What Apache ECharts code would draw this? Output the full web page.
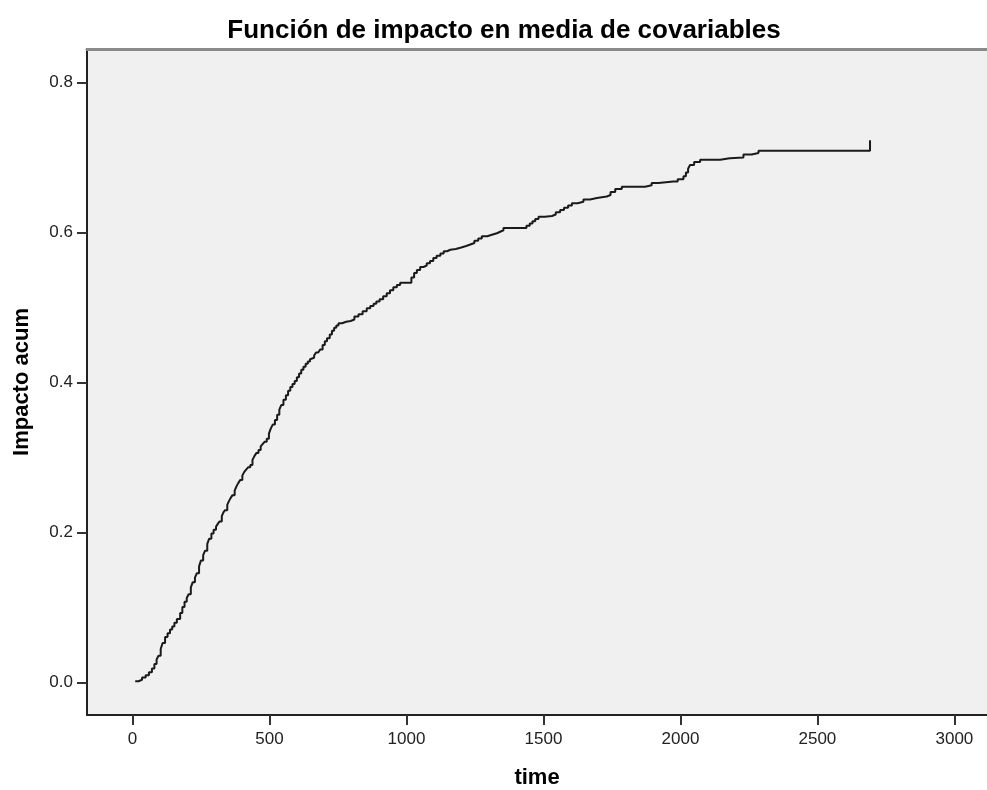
<!DOCTYPE html>
<html>
<head>
<meta charset="utf-8">
<script src="https://cdn.jsdelivr.net/npm/echarts@6/dist/echarts.min.js"></script>
<style>html,body{margin:0;padding:0;background:#fff}#c{width:987px;height:790px}</style>
</head>
<body>
<div id="c"></div>
<script>
const titleText = "Función de impacto en media de covariables";
const xName = "time";
const yName = "Impacto acum";
const xTicks = [0, 500, 1000, 1500, 2000, 2500, 3000];
const yTicks = [0.0, 0.2, 0.4, 0.6, 0.8];
const times = [10, 22, 35, 48, 60, 71, 80, 88, 95, 103, 110, 119, 128, 137, 145, 153, 162, 174, 182, 190, 198, 205, 213, 220, 228, 235, 243, 250, 258, 265, 273, 280, 288, 296, 305, 312, 318, 326, 332, 338, 346, 352, 358, 365, 373, 380, 386, 393, 401, 408, 415, 422, 430, 438, 445, 452, 460, 468, 475, 482, 490, 498, 505, 512, 520, 528, 536, 543, 551, 560, 568, 576, 584, 592, 600, 608, 616, 624, 632, 640, 648, 655, 663, 670, 678, 685, 694, 702, 710, 720, 728, 736, 744, 752, 765, 780, 796, 810, 825, 840, 855, 868, 880, 890, 902, 915, 928, 940, 952, 965, 977, 1018, 1028, 1038, 1050, 1062, 1074, 1086, 1098, 1110, 1124, 1136, 1148, 1160, 1180, 1200, 1218, 1233, 1248, 1262, 1275, 1295, 1312, 1330, 1342, 1354, 1427, 1438, 1450, 1460, 1470, 1482, 1505, 1531, 1545, 1561, 1575, 1590, 1604, 1625, 1646, 1670, 1695, 1731, 1745, 1762, 1786, 1871, 1895, 1920, 1974, 1990, 2011, 2020, 2028, 2035, 2050, 2072, 2145, 2180, 2230, 2260, 2285, 2692];
const impact = [0.002, 0.004, 0.007, 0.010, 0.014, 0.019, 0.025, 0.031, 0.036, 0.045, 0.053, 0.061, 0.066, 0.071, 0.075, 0.080, 0.085, 0.093, 0.101, 0.108, 0.113, 0.118, 0.127, 0.134, 0.140, 0.146, 0.155, 0.163, 0.170, 0.176, 0.185, 0.192, 0.199, 0.204, 0.208, 0.212, 0.215, 0.222, 0.227, 0.230, 0.237, 0.242, 0.246, 0.250, 0.256, 0.262, 0.266, 0.270, 0.276, 0.281, 0.284, 0.287, 0.290, 0.297, 0.302, 0.306, 0.310, 0.315, 0.318, 0.321, 0.325, 0.332, 0.339, 0.344, 0.350, 0.357, 0.364, 0.370, 0.377, 0.383, 0.389, 0.394, 0.398, 0.402, 0.407, 0.412, 0.417, 0.421, 0.425, 0.428, 0.431, 0.433, 0.436, 0.440, 0.442, 0.444, 0.450, 0.455, 0.459, 0.464, 0.469, 0.473, 0.476, 0.479, 0.481, 0.482, 0.484, 0.488, 0.491, 0.495, 0.499, 0.502, 0.505, 0.508, 0.511, 0.515, 0.519, 0.523, 0.527, 0.530, 0.533, 0.540, 0.546, 0.550, 0.554, 0.556, 0.559, 0.562, 0.566, 0.569, 0.572, 0.575, 0.577, 0.578, 0.580, 0.582, 0.584, 0.586, 0.589, 0.592, 0.595, 0.597, 0.599, 0.601, 0.603, 0.606, 0.606, 0.609, 0.612, 0.615, 0.618, 0.621, 0.622, 0.624, 0.627, 0.630, 0.633, 0.636, 0.639, 0.641, 0.644, 0.646, 0.648, 0.650, 0.654, 0.658, 0.661, 0.663, 0.666, 0.668, 0.668, 0.671, 0.675, 0.680, 0.685, 0.690, 0.694, 0.697, 0.699, 0.700, 0.704, 0.706, 0.709, 0.723];

const chart = echarts.init(document.getElementById('c'), null, {renderer: 'canvas'});
const font = 'Arial, "Liberation Sans", sans-serif';
chart.setOption({
  animation: false,
  backgroundColor: '#ffffff',
  title: {
    text: titleText, left: 499, textAlign: 'center', top: 13,
    textStyle: {fontFamily: font, fontSize: 26, fontWeight: 'bold', color: '#000'}
  },
  grid: {
    left: 87, right: 0, top: 49, bottom: 75,
    outerBoundsMode: 'none', containLabel: false,
    show: true, backgroundColor: '#f0f0f0', borderWidth: 0
  },
  xAxis: [{
    type: 'value', min: -166, max: 3119, interval: 500,
    name: xName, nameLocation: 'middle', nameGap: 52,
    nameTextStyle: {fontFamily: font, fontSize: 22, fontWeight: 'bold', color: '#000'},
    axisLine: {show: true, onZero: false, lineStyle: {color: '#222', width: 2}},
    axisTick: {show: true, length: 10, lineStyle: {color: '#333', width: 2},
      customValues: xTicks},
    axisLabel: {fontFamily: font, fontSize: 17, color: '#222', margin: 16,
      customValues: xTicks, formatter: v => String(v)},
    splitLine: {show: false}
  }, {
    type: 'value', position: 'top', min: -166, max: 3119,
    axisLine: {show: true, onZero: false, lineStyle: {color: '#8a8a8a', width: 3}},
    axisTick: {show: false}, axisLabel: {show: false}, splitLine: {show: false}
  }],
  yAxis: {
    type: 'value', min: -0.043, max: 0.8445,
    name: yName, nameLocation: 'middle', nameGap: 54,
    nameTextStyle: {fontFamily: font, fontSize: 22, fontWeight: 'bold', color: '#000'},
    axisLine: {show: true, onZero: false, lineStyle: {color: '#222', width: 2}},
    axisTick: {show: true, length: 10, lineStyle: {color: '#333', width: 2},
      customValues: yTicks},
    axisLabel: {fontFamily: font, fontSize: 17, color: '#222', margin: 14,
      customValues: yTicks, formatter: v => v.toFixed(1)},
    splitLine: {show: false}
  },
  series: [{
    type: 'line', step: 'end', showSymbol: false, symbol: 'none',
    data: times.map((t, i) => [t, impact[i]]),
    lineStyle: {color: '#1a1a1a', width: 2}
  }]
});
</script>
</body>
</html>
